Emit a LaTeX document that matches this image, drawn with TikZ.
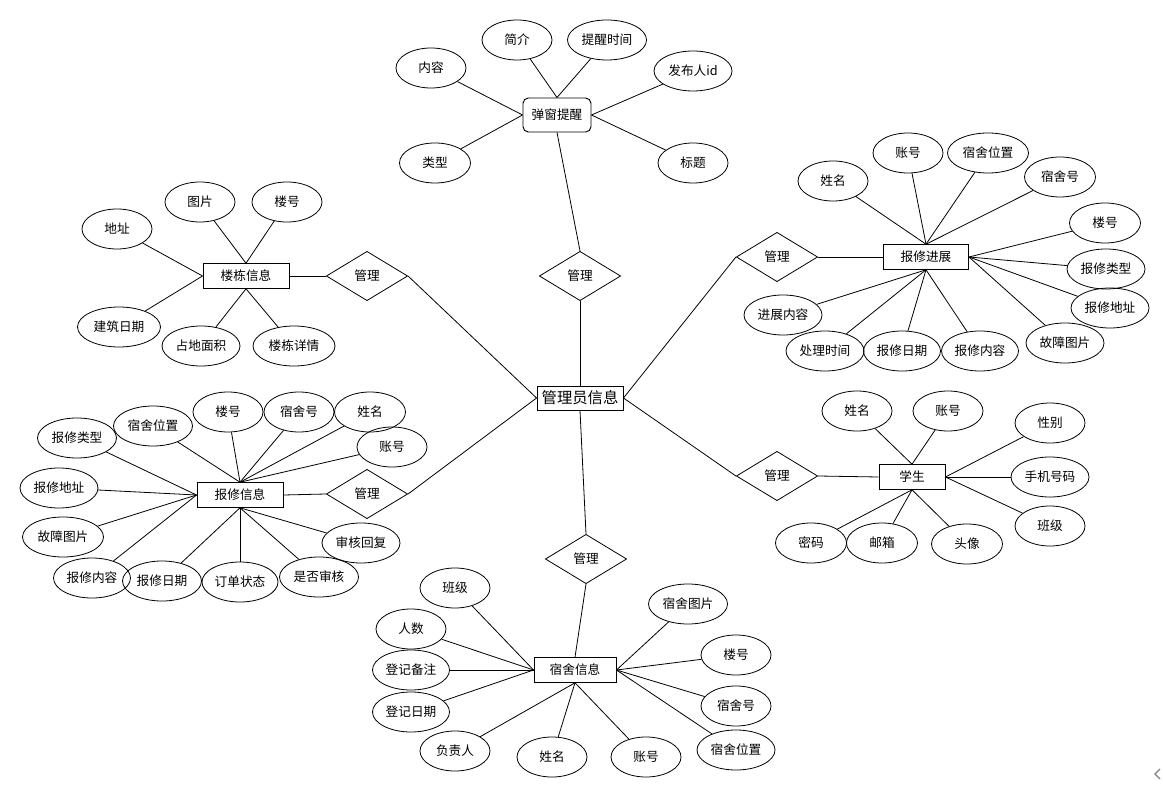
\documentclass[tikz,border=0pt]{standalone}
\usepackage{fontspec}
\setmainfont{Noto Sans CJK SC}
\usetikzlibrary{shapes.geometric}
\tikzset{
  lbl/.style={font=\fontsize{9.5}{10}\selectfont},
  attr/.style={ellipse, draw, line width=0.6pt, minimum width=#1*0.75pt, minimum height=30pt, inner sep=0pt, lbl},
  attr/.default=70,
  ent/.style={rectangle, draw, line width=0.7pt, minimum width=#1*0.75pt, minimum height=18.5pt, inner sep=0pt, lbl},
  ent/.default=86,
  rel/.style={diamond, draw, line width=0.6pt, minimum width=61pt, minimum height=37pt, inner sep=0pt, lbl},
  conn/.style={draw, line width=0.6pt}
}
\begin{document}
\begin{tikzpicture}[x=0.75pt, y=-0.75pt]
\useasboundingbox (0,0) rectangle (1163,791);
\fill[white] (0,0) rectangle (1163,791);

% ---------- 弹窗提醒 ----------
\node[ent=68, minimum height=25.5pt, rounded corners=4pt] (tc) at (557,115) {弹窗提醒};
\node[attr] (t1) at (517,40) {简介};
\node[attr=79] (t2) at (607,40) {提醒时间};
\node[attr] (t3) at (431,68) {内容};
\node[attr=78] (t4) at (693,71) {发布人id};
\node[attr=71] (t5) at (435,163) {类型};
\node[attr] (t6) at (693,163) {标题};
\foreach \a in {t1,t2} \draw[conn] (tc.north) -- (\a);
\foreach \a in {t3,t5} \draw[conn] (tc.west) -- (\a);
\foreach \a in {t4,t6} \draw[conn] (tc.east) -- (\a);

% ---------- 管理员信息 ----------
\node[rel] (r1) at (580,276) {管理};
\node[ent=86, minimum height=18pt, font=\fontsize{11.5}{12}\selectfont] (admin) at (580,398) {管理员信息};

% ---------- 报修进展 ----------
\node[ent=85] (bj) at (926,257) {报修进展};
\node[rel] (r2) at (777,257) {管理};
\node[attr] (p1) at (833,181) {姓名};
\node[attr] (p2) at (908,153) {账号};
\node[attr=81] (p3) at (988,153) {宿舍位置};
\node[attr=71] (p4) at (1060,177) {宿舍号};
\node[attr=71] (p5) at (1105,223) {楼号};
\node[attr=78] (p6) at (1106,269) {报修类型};
\node[attr=78] (p7) at (1110,308) {报修地址};
\node[attr=78] (p8) at (1065,343) {故障图片};
\node[attr=77] (p9) at (980,351) {报修内容};
\node[attr=77] (p10) at (902,351) {报修日期};
\node[attr=78] (p11) at (825,351) {处理时间};
\node[attr=78] (p12) at (783,315) {进展内容};
\foreach \a in {p1,p2,p3,p4} \draw[conn] (bj.north) -- (\a);
\foreach \a in {p5,p6,p7,p8} \draw[conn] (bj.east) -- (\a);
\foreach \a in {p9,p10,p11,p12} \draw[conn] (bj.south) -- (\a);

% ---------- 楼栋信息 ----------
\node[ent=86] (ld) at (246,276) {楼栋信息};
\node[rel] (r3) at (367,276) {管理};
\node[attr] (l1) at (200,202) {图片};
\node[attr] (l2) at (287,202) {楼号};
\node[attr] (l3) at (117,229) {地址};
\node[attr=83] (l4) at (119,327) {建筑日期};
\node[attr=78] (l5) at (201,346) {占地面积};
\node[attr=82] (l6) at (294,346) {楼栋详情};
\foreach \a in {l1,l2} \draw[conn] (ld.north) -- (\a);
\foreach \a in {l3,l4} \draw[conn] (ld.west) -- (\a);
\foreach \a in {l5,l6} \draw[conn] (ld.south) -- (\a);

% ---------- 报修信息 ----------
\node[ent=86] (bx) at (240,495) {报修信息};
\node[rel] (r4) at (367,494) {管理};
\node[attr=79] (b1) at (77,438) {报修类型};
\node[attr=79] (b2) at (153,426) {宿舍位置};
\node[attr] (b3) at (228,412) {楼号};
\node[attr] (b4) at (299,412) {宿舍号};
\node[attr=71] (b5) at (370,412) {姓名};
\node[attr] (b6) at (392,447) {账号};
\node[attr=78] (b7) at (59,488) {报修地址};
\node[attr=81] (b8) at (63,537) {故障图片};
\node[attr=79] (b10) at (162,581) {报修日期};
\node[attr=77] (b9) at (92,578) {报修内容};
\node[attr=76] (b11) at (240,582) {订单状态};
\node[attr=79] (b12) at (319,577) {是否审核};
\node[attr=78] (b13) at (361,543) {审核回复};
\foreach \a in {b1,b7,b8,b9} \draw[conn] (bx.west) -- (\a);
\foreach \a in {b2,b3,b4,b5,b6} \draw[conn] (bx.north) -- (\a);
\foreach \a in {b10,b11,b12,b13} \draw[conn] (bx.south) -- (\a);

% ---------- 宿舍信息 ----------
\node[ent=82] (ss) at (575,670) {宿舍信息};
\node[rel] (r5) at (586,559) {管理};
\node[attr] (s1) at (455,588) {班级};
\node[attr] (s2) at (411,629) {人数};
\node[attr=77] (s3) at (411,670) {登记备注};
\node[attr=77] (s4) at (411,712) {登记日期};
\node[attr] (s5) at (455,751) {负责人};
\node[attr] (s6) at (552,757) {姓名};
\node[attr] (s7) at (646,757) {账号};
\node[attr=78] (s8) at (736,750) {宿舍位置};
\node[attr] (s9) at (736,706) {宿舍号};
\node[attr] (s10) at (736,655) {楼号};
\node[attr=79] (s11) at (688,604) {宿舍图片};
\foreach \a in {s1,s2,s3,s4} \draw[conn] (ss.west) -- (\a);
\foreach \a in {s5,s6,s7} \draw[conn] (ss.south) -- (\a);
\foreach \a in {s8,s9,s10,s11} \draw[conn] (ss.east) -- (\a);

% ---------- 学生 ----------
\node[ent=66] (xs) at (912,477) {学生};
\node[rel] (r6) at (777,476) {管理};
\node[attr] (x1) at (857,411) {姓名};
\node[attr] (x2) at (948,411) {账号};
\node[attr] (x3) at (1050,423) {性别};
\node[attr=78] (x4) at (1050,477) {手机号码};
\node[attr] (x5) at (1050,526) {班级};
\node[attr=71] (x6) at (811,543) {密码};
\node[attr=71] (x7) at (882,543) {邮箱};
\node[attr=71] (x8) at (967,544) {头像};
\foreach \a in {x1,x2} \draw[conn] (xs.north) -- (\a);
\foreach \a in {x3,x4,x5} \draw[conn] (xs.east) -- (\a);
\foreach \a in {x6,x7,x8} \draw[conn] (xs.south) -- (\a);

% ---------- relationships ----------
\draw[conn] (tc.south) -- (r1.north);
\draw[conn] (r1.south) -- (admin.north);
\draw[conn] (admin.east) -- (r2.west);
\draw[conn] (r2.east) -- (bj.west);
\draw[conn] (ld.east) -- (r3.west);
\draw[conn] (r3.east) -- (admin.west);
\draw[conn] (bx.east) -- (r4.west);
\draw[conn] (r4.east) -- (admin.west);
\draw[conn] (admin.south) -- (r5.north);
\draw[conn] (r5.south) -- (ss.north);
\draw[conn] (admin.east) -- (r6.west);
\draw[conn] (r6.east) -- (xs.west);

% corner chevron
\coordinate (cv1) at (1160,769);
\coordinate (cv2) at (1155,774);
\coordinate (cv3) at (1160,779);
\draw[gray, line width=0.9pt] (cv1) -- (cv2) -- (cv3);
\end{tikzpicture}
\end{document}
